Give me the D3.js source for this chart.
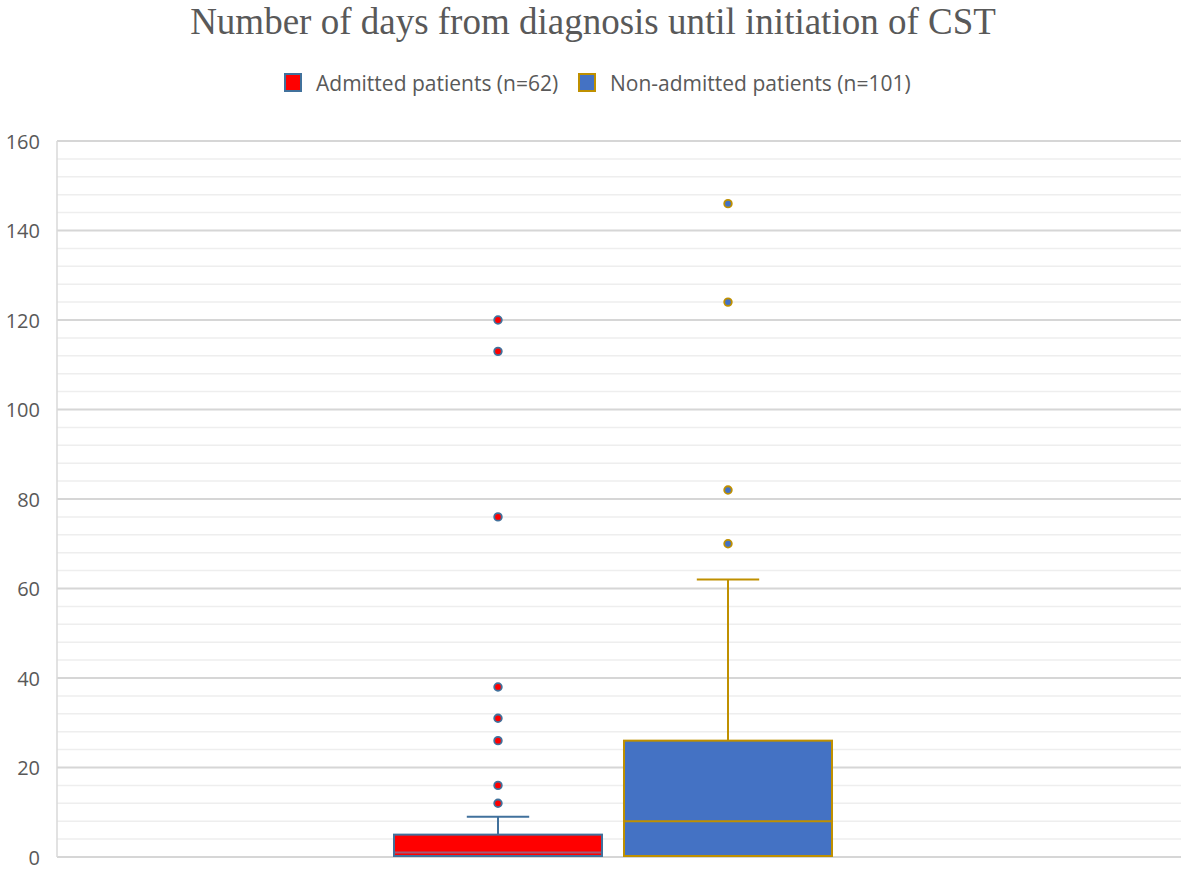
<!DOCTYPE html>
<html>
<head>
  <title>Days from diagnosis until initiation of CST</title>
  <script src="https://d3js.org/d3.v7.min.js"></script>
  <style>
    body { margin: 0; background: #fff; }
    .chart-title { font-family: "Liberation Serif", "Times New Roman", serif; font-size: 37px; fill: #595959; text-anchor: middle; }
    .legend text { font-family: "Open Sans", sans-serif; font-size: 21px; fill: #595959; }
    .axis text { font-family: "Open Sans", sans-serif; font-size: 20px; fill: #595959; }
    .axis path { display: none; }
    .axis line { stroke: none; }
  </style>
</head>
<body>
  <div id="chart"></div>
  <script>
    // data
    const series = ["Admitted patients (n=62)", "Non-admitted patients (n=101)"];
    const whiskerLow = [0, 0];
    const q1 = [0, 0];
    const median = [1, 8];
    const q3 = [5, 26];
    const whiskerHigh = [9, 62];
    const outliers = [
      [12, 16, 26, 31, 38, 76, 113, 120],
      [70, 82, 124, 146]
    ];
    const yTicks = [0, 20, 40, 60, 80, 100, 120, 140, 160];

    const fills = ["#ff0000", "#4472c4"];
    const strokes = ["#41719c", "#bf9000"];

    const W = 1184, H = 872;
    const margin = {top: 141, right: 3, bottom: 15, left: 57};
    const width = W - margin.left - margin.right;
    const height = H - margin.top - margin.bottom;

    const svg = d3.select("#chart").append("svg")
      .attr("width", W)
      .attr("height", H);

    svg.append("text")
      .attr("class", "chart-title")
      .attr("x", 593)
      .attr("y", 34)
      .text("Number of days from diagnosis until initiation of CST");

    const g = svg.append("g")
      .attr("transform", `translate(${margin.left},${margin.top})`);

    const y = d3.scaleLinear().domain([0, 160]).range([height, 0]);

    // series positions inside the single category
    const x = d3.scaleBand()
      .domain(series)
      .range([337, 775])
      .paddingInner(0.0957)
      .paddingOuter(0);

    // minor gridlines
    g.append("g").selectAll("line")
      .data(d3.range(4, 160, 4).filter(v => v % 20 !== 0))
      .join("line")
      .attr("x1", 0).attr("x2", width)
      .attr("y1", d => y(d)).attr("y2", d => y(d))
      .attr("stroke", "#eeeeee").attr("stroke-width", 1.5);

    // major gridlines
    g.append("g").selectAll("line")
      .data(yTicks)
      .join("line")
      .attr("x1", 0).attr("x2", width)
      .attr("y1", d => y(d)).attr("y2", d => y(d))
      .attr("stroke", "#d6d6d6").attr("stroke-width", 1.8);

    // left axis line
    g.append("line")
      .attr("x1", 0).attr("x2", 0)
      .attr("y1", y(160)).attr("y2", y(0))
      .attr("stroke", "#d9d9d9").attr("stroke-width", 1.5);

    g.append("g")
      .attr("class", "axis")
      .call(d3.axisLeft(y).tickValues(yTicks).tickSize(0).tickPadding(17))
      .selectAll("text").attr("dy", "0.36em");

    const boxes = g.selectAll(".box")
      .data(series.map((s, i) => ({s, i})))
      .join("g")
      .attr("class", "box");

    // whiskers
    boxes.append("line")
      .attr("x1", d => x(d.s) + x.bandwidth() / 2)
      .attr("x2", d => x(d.s) + x.bandwidth() / 2)
      .attr("y1", d => y(q3[d.i]))
      .attr("y2", d => y(whiskerHigh[d.i]))
      .attr("stroke", d => strokes[d.i]).attr("stroke-width", 2);
    boxes.append("line")
      .attr("x1", d => x(d.s) + x.bandwidth() * 0.35)
      .attr("x2", d => x(d.s) + x.bandwidth() * 0.65)
      .attr("y1", d => y(whiskerHigh[d.i]))
      .attr("y2", d => y(whiskerHigh[d.i]))
      .attr("stroke", d => strokes[d.i]).attr("stroke-width", 2);

    boxes.append("rect")
      .attr("x", d => x(d.s))
      .attr("width", x.bandwidth())
      .attr("y", d => y(q3[d.i]))
      .attr("height", d => y(q1[d.i]) - y(q3[d.i]) - 1)
      .attr("fill", d => fills[d.i])
      .attr("stroke", d => strokes[d.i]).attr("stroke-width", 2);

    boxes.append("line")
      .attr("x1", d => x(d.s) + 1)
      .attr("x2", d => x(d.s) + x.bandwidth() - 1)
      .attr("y1", d => y(median[d.i]))
      .attr("y2", d => y(median[d.i]))
      .attr("stroke", d => d.i === 0 ? "#a05a78" : strokes[d.i]).attr("stroke-width", 2);

    boxes.selectAll("circle")
      .data(d => outliers[d.i].map(v => ({v, s: d.s, i: d.i})))
      .join("circle")
      .attr("cx", d => x(d.s) + x.bandwidth() / 2)
      .attr("cy", d => y(d.v))
      .attr("r", 3.8)
      .attr("fill", d => fills[d.i])
      .attr("stroke", d => strokes[d.i]).attr("stroke-width", 1.8);

    // legend
    const legend = svg.append("g").attr("class", "legend");
    const legendX = [285, 579];
    series.forEach((s, i) => {
      legend.append("rect")
        .attr("x", legendX[i]).attr("y", 74)
        .attr("width", 16).attr("height", 17)
        .attr("fill", fills[i])
        .attr("stroke", strokes[i]).attr("stroke-width", 2);
      legend.append("text")
        .attr("x", legendX[i] + 31).attr("y", 91)
        .text(s);
    });
  </script>
</body>
</html>
